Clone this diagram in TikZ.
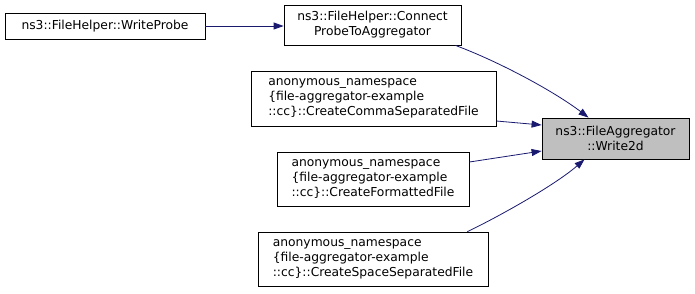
\documentclass[tikz,border=0pt]{standalone}
\usepackage{fontspec}
\setmainfont{DejaVu Sans}
\usetikzlibrary{arrows.meta}
\definecolor{edgeblue}{HTML}{191970}
\definecolor{hilite}{HTML}{BFBFBF}
\begin{document}
\begin{tikzpicture}[x=1pt,y=-1pt,
  fn/.style={draw=black, line width=0.8pt, inner sep=0pt, align=left,
    font=\fontsize{12.3}{15}\selectfont},
  call/.style={draw=edgeblue, line width=0.8pt,
    -{Triangle[length=10pt,width=7pt]}}]
\useasboundingbox (0,0) rectangle (695,293);
% caller boxes
\node[fn, minimum width=200pt, minimum height=26pt] (wp) at (105,26) {ns3::FileHelper::WriteProbe};
\node[fn, minimum width=177pt, minimum height=40pt, align=center] (cp) at (372.5,25) {ns3::FileHelper::Connect\\ProbeToAggregator};
\node[fn, minimum width=245pt, minimum height=55pt] (cs) at (373.5,98.5) {anonymous\_namespace\\\{file-aggregator-example\\::cc\}::CreateCommaSeparatedFile};
\node[fn, minimum width=192pt, minimum height=54pt] (cf) at (373,179) {anonymous\_namespace\\\{file-aggregator-example\\::cc\}::CreateFormattedFile};
\node[fn, minimum width=230pt, minimum height=54pt] (ss) at (373,259) {anonymous\_namespace\\\{file-aggregator-example\\::cc\}::CreateSpaceSeparatedFile};
% called function
\node[fn, fill=hilite, minimum width=147pt, minimum height=41pt, align=center] (w2) at (615.5,138.5) {ns3::FileAggregator\\::Write2d};
% edge end points on the box borders
\coordinate (cpout) at ([xshift=-6pt]cp.south east);
\coordinate (w2top) at ([xshift=-27pt]w2.north);
\coordinate (ssout) at ([xshift=-21pt]ss.north east);
\coordinate (w2bot) at ([xshift=-31pt]w2.south);
% call edges
\draw[call] (wp.east) -- (wp.east -| cp.west);
\draw[call] (cpout) .. controls (500,62) and (555,92) .. (w2top);
\draw[call] (cs.east |- 0,121) -- (w2.west |- 0,125);
\draw[call] (cf.east |- 0,162) -- (w2.west |- 0,151);
\draw[call] (ssout) .. controls (500,216) and (555,185) .. (w2bot);
\end{tikzpicture}
\end{document}
